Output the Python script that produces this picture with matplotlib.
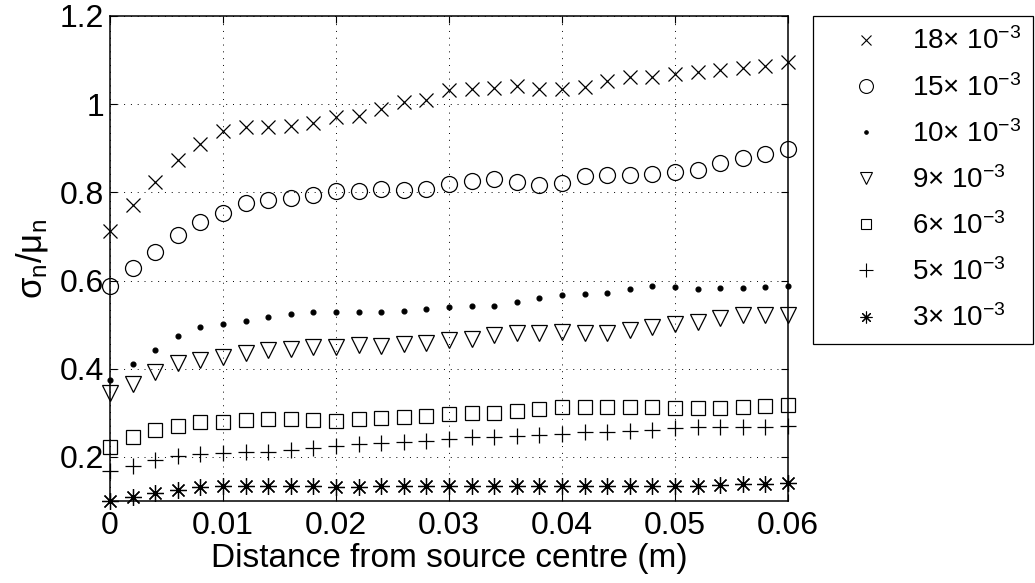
import numpy as np
import matplotlib
matplotlib.use("Agg")
import matplotlib.pyplot as plt
from matplotlib.lines import Line2D

plt.rcParams['font.family'] = ['Liberation Sans', 'DejaVu Sans']
plt.rcParams['mathtext.fontset'] = 'custom'
plt.rcParams['mathtext.rm'] = 'Liberation Sans'
plt.rcParams['mathtext.it'] = 'Liberation Sans'
plt.rcParams['mathtext.default'] = 'regular'

# distance from source centre (m), one point every 2 mm
distance = np.arange(31) * 0.002

# sigma_n / mu_n, one list per curve
s18 = [0.712, 0.771, 0.823, 0.873, 0.909, 0.939, 0.948, 0.949, 0.951, 0.957,
       0.970, 0.974, 0.988, 1.006, 1.010, 1.032, 1.034, 1.037, 1.041, 1.035,
       1.034, 1.040, 1.053, 1.062, 1.062, 1.068, 1.074, 1.078, 1.083, 1.087, 1.096]
s15 = [0.588, 0.629, 0.665, 0.703, 0.732, 0.754, 0.775, 0.783, 0.788, 0.793,
       0.802, 0.804, 0.807, 0.805, 0.807, 0.818, 0.826, 0.830, 0.824, 0.816,
       0.822, 0.836, 0.839, 0.839, 0.842, 0.845, 0.851, 0.866, 0.877, 0.887, 0.898]
s10 = [0.374, 0.410, 0.442, 0.474, 0.494, 0.502, 0.509, 0.518, 0.523, 0.529,
       0.529, 0.529, 0.529, 0.530, 0.536, 0.541, 0.543, 0.542, 0.551, 0.560,
       0.567, 0.569, 0.572, 0.581, 0.588, 0.585, 0.580, 0.582, 0.584, 0.585, 0.588]
s9 = [0.345, 0.365, 0.393, 0.412, 0.420, 0.427, 0.435, 0.442, 0.445, 0.449,
      0.450, 0.454, 0.452, 0.456, 0.458, 0.465, 0.467, 0.476, 0.482, 0.480,
      0.484, 0.482, 0.482, 0.488, 0.495, 0.501, 0.507, 0.514, 0.522, 0.521, 0.522]
s6 = [0.223, 0.244, 0.261, 0.270, 0.278, 0.280, 0.284, 0.285, 0.286, 0.284,
      0.281, 0.285, 0.288, 0.290, 0.293, 0.297, 0.299, 0.300, 0.303, 0.309,
      0.314, 0.314, 0.314, 0.312, 0.312, 0.311, 0.310, 0.310, 0.314, 0.315, 0.318]
s5 = [0.169, 0.180, 0.193, 0.202, 0.207, 0.208, 0.210, 0.211, 0.216, 0.220,
      0.225, 0.229, 0.231, 0.234, 0.237, 0.241, 0.244, 0.246, 0.248, 0.250,
      0.253, 0.256, 0.257, 0.258, 0.262, 0.265, 0.267, 0.267, 0.267, 0.268, 0.269]
s3 = [0.100, 0.110, 0.119, 0.126, 0.131, 0.133, 0.134, 0.133, 0.133, 0.133,
      0.132, 0.132, 0.133, 0.133, 0.133, 0.134, 0.134, 0.134, 0.134, 0.134,
      0.134, 0.134, 0.134, 0.134, 0.134, 0.134, 0.135, 0.137, 0.139, 0.139, 0.140]

labels = [r'18$\times$ 10$^{-3}$', r'15$\times$ 10$^{-3}$', r'10$\times$ 10$^{-3}$',
          r'9$\times$ 10$^{-3}$', r'6$\times$ 10$^{-3}$', r'5$\times$ 10$^{-3}$',
          r'3$\times$ 10$^{-3}$']
xticks = [0, 0.01, 0.02, 0.03, 0.04, 0.05, 0.06]
xticklabels = ['0', '0.01', '0.02', '0.03', '0.04', '0.05', '0.06']
yticks = [0.2, 0.4, 0.6, 0.8, 1.0, 1.2]
yticklabels = ['0.2', '0.4', '0.6', '0.8', '1', '1.2']

series = [s18, s15, s10, s9, s6, s5, s3]
markers = ['x', 'o', '.', 'v', 's', '+', (8, 2, 0)]
sizes = [10, 11.5, 7, 11, 9.5, 12, 12]
leg_sizes = [7, 10, 5, 9, 7.5, 9.5, 8.5]

fig = plt.figure(figsize=(10.35, 5.83), dpi=100)
ax = fig.add_axes([0.1063, 0.1407, 0.6551, 0.8319])

for y, m, ms in zip(series, markers, sizes):
    ax.plot(distance, y, linestyle='none', marker=m, markersize=ms,
            markerfacecolor='none' if m != '.' else 'k',
            markeredgecolor='k', markeredgewidth=0.9, clip_on=False, zorder=3)

ax.set_xlim(0, 0.06)
ax.set_ylim(0.1, 1.2)
ax.set_xticks(xticks)
ax.set_xticklabels(xticklabels)
ax.set_yticks(yticks)
ax.set_yticklabels(yticklabels)
ax.tick_params(direction='in', length=5, width=0.8, top=True, right=True,
               labelsize=23, pad=7)
ax.tick_params(axis='y', pad=4)
ax.grid(True, color='k', linestyle=(0, (1, 6)), linewidth=0.7)
for sp in ax.spines.values():
    sp.set_linewidth(1.1)

ax.set_xlabel('Distance from source centre (m)', fontsize=24, labelpad=2)
ax.set_ylabel(r'$\sigma_n/\mu_n$', fontsize=25, labelpad=7)

handles = [Line2D([], [], linestyle='none', marker=m, markersize=ms,
                  markerfacecolor='none' if m != '.' else 'k',
                  markeredgecolor='k', markeredgewidth=0.8)
           for m, ms in zip(markers, leg_sizes)]
leg = fig.legend(handles, labels, loc='upper left', bbox_to_anchor=(0.7855, 0.9726),
                 borderaxespad=0, fontsize=20, frameon=True, fancybox=False,
                 edgecolor='k', framealpha=1, labelspacing=0.66,
                 handlelength=2.95, handletextpad=0.2, borderpad=0.42)
leg.get_frame().set_linewidth(0.9)

fig.savefig('out.png', dpi=100)
